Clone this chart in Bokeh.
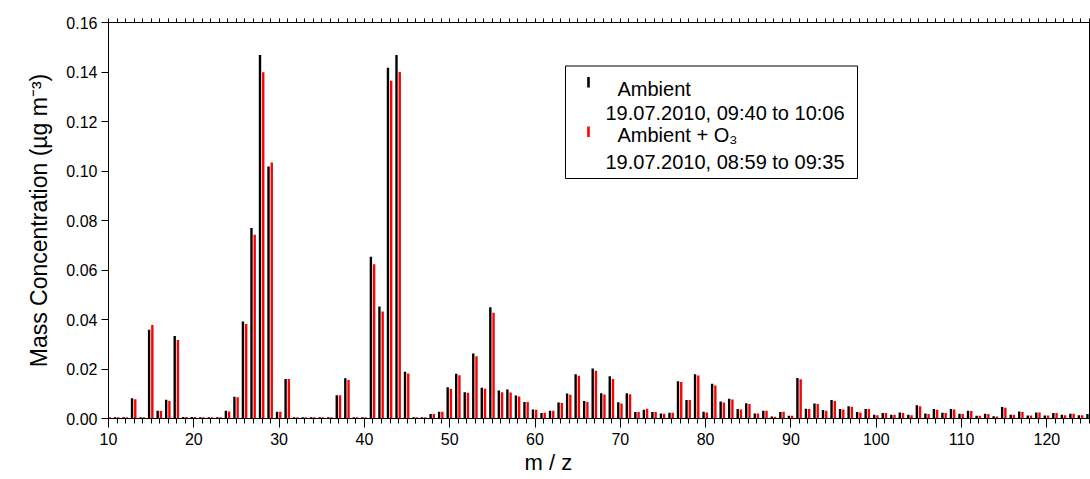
from bokeh.plotting import figure
from bokeh.models import (Range1d, LinearAxis, FixedTicker, NumeralTickFormatter,
                          Label, BoxAnnotation, ColumnDataSource, Title)
from bokeh.transform import dodge
from bokeh.embed import file_html
from bokeh.resources import INLINE

# ---------------- data ----------------
mz = list(range(10, 126))

ambient = [
    0.0005, 0.0005, 0.0005, 0.0082, 0.0005, 0.0359, 0.0031, 0.0076, 0.0333, 0.0006,   # 10-19
    0.0006, 0.0005, 0.0005, 0.0005, 0.0031, 0.0088, 0.0392, 0.0770, 0.1469, 0.1018,   # 20-29
    0.0027, 0.0160, 0.0005, 0.0005, 0.0005, 0.0005, 0.0005, 0.0094, 0.0163, 0.0005,   # 30-39
    0.0005, 0.0654, 0.0453, 0.1417, 0.1469, 0.0189, 0.0005, 0.0005, 0.0018, 0.0027,   # 40-49
    0.0126, 0.0181, 0.0106, 0.0263, 0.0124, 0.0450, 0.0113, 0.0117, 0.0093, 0.0067,   # 50-59
    0.0036, 0.0022, 0.0031, 0.0065, 0.0101, 0.0179, 0.0071, 0.0202, 0.0102, 0.0171,   # 60-69
    0.0066, 0.0102, 0.0026, 0.0035, 0.0026, 0.0020, 0.0023, 0.0151, 0.0075, 0.0179,   # 70-79
    0.0027, 0.0140, 0.0069, 0.0080, 0.0038, 0.0062, 0.0020, 0.0031, 0.0008, 0.0026,   # 80-89
    0.0011, 0.0164, 0.0039, 0.0061, 0.0034, 0.0075, 0.0038, 0.0050, 0.0026, 0.0038,   # 90-99
    0.0015, 0.0022, 0.0015, 0.0024, 0.0015, 0.0054, 0.0020, 0.0038, 0.0023, 0.0038,   # 100-109
    0.0019, 0.0031, 0.0011, 0.0019, 0.0009, 0.0046, 0.0015, 0.0028, 0.0012, 0.0024,   # 110-119
    0.0012, 0.0022, 0.0015, 0.0019, 0.0013, 0.0018,                                   # 120-125
]

ambient_o3 = [
    0.0005, 0.0005, 0.0005, 0.0078, 0.0005, 0.0378, 0.0030, 0.0071, 0.0317, 0.0006,   # 10-19
    0.0006, 0.0005, 0.0005, 0.0005, 0.0028, 0.0086, 0.0382, 0.0742, 0.1399, 0.1034,   # 20-29
    0.0027, 0.0160, 0.0005, 0.0005, 0.0005, 0.0005, 0.0005, 0.0094, 0.0156, 0.0005,   # 30-39
    0.0005, 0.0623, 0.0432, 0.1365, 0.1400, 0.0182, 0.0005, 0.0005, 0.0018, 0.0027,   # 40-49
    0.0120, 0.0175, 0.0104, 0.0252, 0.0120, 0.0427, 0.0106, 0.0105, 0.0089, 0.0067,   # 50-59
    0.0035, 0.0023, 0.0031, 0.0063, 0.0096, 0.0173, 0.0067, 0.0193, 0.0097, 0.0160,   # 60-69
    0.0061, 0.0098, 0.0026, 0.0039, 0.0026, 0.0019, 0.0023, 0.0147, 0.0075, 0.0174,   # 70-79
    0.0024, 0.0133, 0.0065, 0.0077, 0.0036, 0.0059, 0.0020, 0.0031, 0.0007, 0.0027,   # 80-89
    0.0011, 0.0159, 0.0038, 0.0059, 0.0031, 0.0071, 0.0036, 0.0047, 0.0024, 0.0038,   # 90-99
    0.0013, 0.0022, 0.0015, 0.0022, 0.0013, 0.0050, 0.0018, 0.0035, 0.0022, 0.0036,   # 100-109
    0.0018, 0.0030, 0.0011, 0.0018, 0.0008, 0.0043, 0.0015, 0.0026, 0.0012, 0.0024,   # 110-119
    0.0012, 0.0022, 0.0013, 0.0019, 0.0013, 0.0018,                                   # 120-125
]

series_labels = ["Ambient", "Ambient + O\u2083"]
series_periods = ["19.07.2010, 09:40 to 10:06", "19.07.2010, 08:59 to 09:35"]
series_colors = ["#000000", "#ff0000"]

x_major_ticks = [10, 20, 30, 40, 50, 60, 70, 80, 90, 100, 110, 120]
y_major_ticks = [0.00, 0.02, 0.04, 0.06, 0.08, 0.10, 0.12, 0.14, 0.16]

x_min, x_max = 10, 125
y_min, y_max = 0.0, 0.16

# ---------------- figure ----------------
W, H = 1090, 479
FONT = "Liberation Sans"

p = figure(width=W, height=H, output_backend="svg", toolbar_location=None,
           x_range=Range1d(x_min, x_max), y_range=Range1d(y_min, y_max),
           min_border_left=108, min_border_right=1, min_border_top=22, min_border_bottom=61,
           background_fill_color="white", border_fill_color="white")
p.xgrid.visible = False
p.ygrid.visible = False
p.outline_line_color = "black"
p.outline_line_width = 1
p.outline_line_alpha = 1

src = ColumnDataSource(dict(mz=mz, ambient=ambient, ambient_o3=ambient_o3))
p.vbar(x=dodge("mz", -0.24, range=p.x_range), top="ambient", bottom=0, width=0.28,
       source=src, fill_color=series_colors[0], line_color=None)
p.vbar(x=dodge("mz", 0.14, range=p.x_range), top="ambient_o3", bottom=0, width=0.28,
       source=src, fill_color=series_colors[1], line_color=None)

# bottom axis
xa = p.xaxis[0]
xa.ticker = FixedTicker(ticks=x_major_ticks, minor_ticks=mz)
xa.major_tick_in = 0
xa.major_tick_out = 9
xa.minor_tick_in = 0
xa.minor_tick_out = 5
xa.axis_line_color = "black"
xa.major_tick_line_color = "black"
xa.minor_tick_line_color = "black"
xa.major_label_text_font = FONT
xa.major_label_text_font_size = "16px"
xa.major_label_text_color = "black"
xa.major_label_standoff = 5

# top axis (minor ticks only, no labels)
ta = LinearAxis(ticker=FixedTicker(ticks=[], minor_ticks=mz))
ta.minor_tick_in = 0
ta.minor_tick_out = 4
ta.major_label_standoff = 0
ta.axis_line_color = "black"
ta.minor_tick_line_color = "black"
p.add_layout(ta, "above")

# left axis
ya = p.yaxis[0]
ya.ticker = FixedTicker(ticks=y_major_ticks)
ya.formatter = NumeralTickFormatter(format="0.00")
ya.major_tick_in = 0
ya.major_tick_out = 7
ya.minor_tick_line_color = None
ya.axis_line_color = "black"
ya.major_tick_line_color = "black"
ya.major_label_text_font = FONT
ya.major_label_text_font_size = "16px"
ya.major_label_text_color = "black"
ya.major_label_standoff = 4
ya.axis_label = "Mass Concentration (\u00b5g m\u207b\u00b3)"
ya.axis_label_text_font = FONT
ya.axis_label_text_font_size = "23px"
ya.axis_label_text_font_style = "normal"
ya.axis_label_text_color = "black"
ya.axis_label_standoff = 11

# x axis title (placed left of centre, as in the reference)
p.add_layout(Title(text="m / z", align="left", offset=416, standoff=0,
                   text_font=FONT, text_font_size="22px", text_font_style="normal",
                   text_color="black"), "below")

# helpers: canvas pixel -> data coordinates of the frame (for annotation placement)
X0, X1, Y0, Y1 = 108.0, 1089.0, 22.0, 418.0
def dx(px):
    return x_min + (px - X0) * (x_max - x_min) / (X1 - X0)
def dy(py):
    return y_min + (Y1 - py) * (y_max - y_min) / (Y1 - Y0)

# legend
p.add_layout(BoxAnnotation(left=dx(565), right=dx(857), top=dy(65.5), bottom=dy(178),
                           fill_color="white", fill_alpha=1, line_color="black",
                           line_width=1, line_alpha=1))
marker_tops = [76.5, 126]
text_base = [(88.3, 112.3), (134.5, 161.7)]
for i in range(2):
    p.add_layout(BoxAnnotation(left=dx(586.7), right=dx(589.3), top=dy(marker_tops[i]),
                               bottom=dy(marker_tops[i] + 10.5),
                               fill_color=series_colors[i], fill_alpha=1, line_color=None))
    p.add_layout(Label(x=dx(617), y=dy(text_base[i][0]), text=series_labels[i],
                       text_align="left", text_baseline="alphabetic", text_font=FONT,
                       text_font_size="20px", text_color="black"))
    p.add_layout(Label(x=dx(605), y=dy(text_base[i][1]), text=series_periods[i],
                       text_align="left", text_baseline="alphabetic", text_font=FONT,
                       text_font_size="20px", text_color="black"))

open("out.html", "w").write(file_html(p, INLINE))
